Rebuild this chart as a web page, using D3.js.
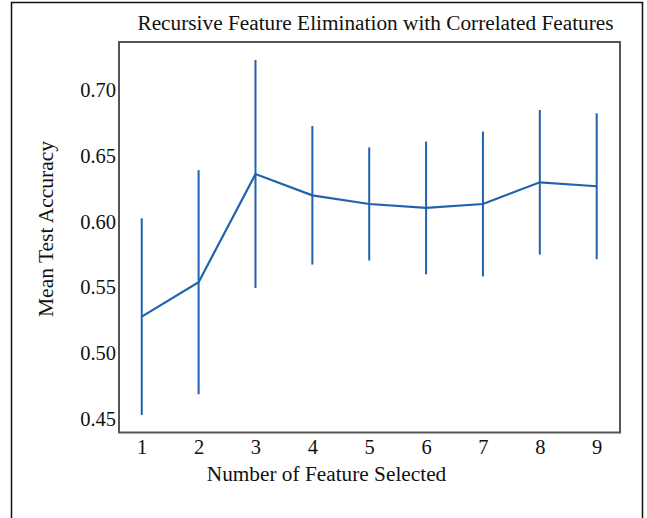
<!DOCTYPE html>
<html>
<head>
<meta charset="utf-8">
<script src="https://cdn.jsdelivr.net/npm/d3@7"></script>
<style>
  html, body { margin: 0; padding: 0; background: #fff; }
  svg text { font-family: "Liberation Serif", "Times New Roman", serif; fill: #111; }
</style>
</head>
<body>
<svg id="chart" width="647" height="518"></svg>
<script>
// Number of features kept by RFE, with mean CV accuracy and its standard deviation
const featureCounts = [1, 2, 3, 4, 5, 6, 7, 8, 9];
const meanAccuracy  = [0.5276, 0.5538, 0.6361, 0.6199, 0.6133, 0.6103, 0.6133, 0.6298, 0.6268];
const stdAccuracy   = [0.0748, 0.0852, 0.0867, 0.0527, 0.0430, 0.0505, 0.0551, 0.0550, 0.0555];
const yTickValues   = [0.45, 0.50, 0.55, 0.60, 0.65, 0.70];
const xDomain = [0.6, 9.41];
const yDomain = [0.4395, 0.7365];

const titleText = "Recursive Feature Elimination with Correlated Features";
const xLabel = "Number of Feature Selected";
const yLabel = "Mean Test Accuracy";

const svg = d3.select("#chart");
const plot = { left: 119, top: 42, right: 620, bottom: 432.5 };
const lineColor = "#1f62ad";

// outer figure frame
svg.append("rect")
  .attr("x", 11.5).attr("y", 2.5)
  .attr("width", 631).attr("height", 530)
  .attr("fill", "none").attr("stroke", "#111").attr("stroke-width", 1.5);

const x = d3.scaleLinear().domain(xDomain).range([plot.left, plot.right]);
const y = d3.scaleLinear().domain(yDomain).range([plot.bottom, plot.top]);

// plot frame
svg.append("rect")
  .attr("x", plot.left).attr("y", plot.top)
  .attr("width", plot.right - plot.left).attr("height", plot.bottom - plot.top)
  .attr("fill", "none").attr("stroke", "#555").attr("stroke-width", 2);

// axes: labels only, no tick marks or domain line
const xAxis = d3.axisBottom(x).tickValues(featureCounts).tickFormat(d3.format("d")).tickSize(0).tickPadding(7);
const gx = svg.append("g").attr("transform", `translate(0,${plot.bottom})`).call(xAxis);
gx.select(".domain").remove();
gx.selectAll("text").style("font-size", "20.5px").attr("fill", "#111");

const yAxis = d3.axisLeft(y).tickValues(yTickValues).tickFormat(d3.format(".2f")).tickSize(0).tickPadding(3);
const gy = svg.append("g").attr("transform", `translate(${plot.left},0)`).call(yAxis);
gy.select(".domain").remove();
gy.selectAll("text").style("font-size", "20.5px").attr("fill", "#111");

const rows = featureCounts.map((k, i) => ({ k, m: meanAccuracy[i], s: stdAccuracy[i] }));

// error bars (± one standard deviation)
svg.append("g").selectAll("line").data(rows).join("line")
  .attr("x1", d => x(d.k)).attr("x2", d => x(d.k))
  .attr("y1", d => y(d.m - d.s)).attr("y2", d => y(d.m + d.s))
  .attr("stroke", lineColor).attr("stroke-width", 2);

// mean accuracy line
svg.append("path").datum(rows)
  .attr("d", d3.line().x(d => x(d.k)).y(d => y(d.m)))
  .attr("fill", "none").attr("stroke", lineColor).attr("stroke-width", 2.2)
  .attr("stroke-linejoin", "miter");

// titles
svg.append("text")
  .attr("x", 375.5).attr("y", 30).attr("text-anchor", "middle")
  .style("font-size", "21.3px").text(titleText);

svg.append("text")
  .attr("x", 326.5).attr("y", 481).attr("text-anchor", "middle")
  .style("font-size", "21.3px").text(xLabel);

svg.append("text")
  .attr("transform", `translate(53,229) rotate(-90)`)
  .attr("text-anchor", "middle")
  .style("font-size", "21.5px").text(yLabel);
</script>
</body>
</html>
